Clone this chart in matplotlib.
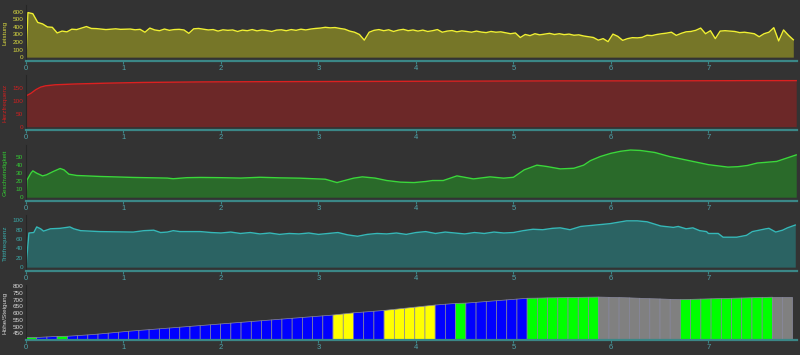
import numpy as np
import matplotlib
matplotlib.use("Agg")
import matplotlib.pyplot as plt

# ---- data ----
# Leistung (W), first point at km 0 then every 0.05 km from 0.02
pwr = [0,
       590, 575, 460, 440, 400, 395, 320, 345, 335, 370,
       365, 385, 405, 380, 378, 372, 365, 370, 375, 368,
       370, 372, 362, 368, 330, 385, 360, 350, 372, 355,
       365, 368, 360, 315, 375, 380, 370, 360, 365, 345,
       362, 355, 360, 340, 358, 350, 365, 348, 360, 352,
       340, 358, 362, 350, 365, 355, 370, 360, 372, 380,
       385, 395, 388, 392, 380, 370, 345, 330, 300, 225,
       330, 355, 365, 350, 362, 340, 358, 368, 350, 360,
       345, 358, 340, 350, 365, 330, 345, 352, 335, 348,
       340, 330, 345, 332, 325, 340, 330, 335, 322, 310,
       320, 260, 300, 285, 310, 295, 305, 315, 300, 310,
       298, 305, 290, 295, 280, 270, 260, 225, 245, 205,
       305, 275, 222, 245, 258, 255, 262, 290, 285, 300,
       310, 318, 330, 288, 315, 335, 340, 355, 385, 310,
       350, 245, 345, 350, 345, 340, 325, 330, 320, 310,
       270, 310, 330, 390, 215, 360, 290, 230]
pwr_km = np.r_[0.0, 0.02 + 0.05 * np.arange(len(pwr) - 1)]

# Herzfrequenz
hr_km = [0, 0.05, 0.1, 0.15, 0.2, 0.3, 0.5, 0.8, 1.2, 1.8, 2.5, 3.5, 4.5, 5.5, 6.5, 7.5, 7.9]
hr = [118, 128, 142, 152, 157, 161, 164, 167, 170, 172, 173, 174, 175, 176, 176, 177, 177]

# Geschwindigkeit
spd_km = [0, 0.01, 0.05, 0.07, 0.11, 0.17, 0.21, 0.28, 0.35, 0.39,
          0.44, 0.52, 0.76, 1.1, 1.45, 1.51, 1.65, 1.79, 2.0, 2.2,
          2.4, 2.6, 2.81, 3.07, 3.19, 3.36, 3.45, 3.58, 3.70, 3.84,
          3.98, 4.10, 4.17, 4.28, 4.42, 4.59, 4.76, 4.90, 5.00, 5.11,
          5.24, 5.34, 5.48, 5.62, 5.72, 5.79, 5.89, 6.0, 6.1, 6.2,
          6.3, 6.45, 6.6, 6.8, 7.0, 7.1, 7.2, 7.3, 7.4, 7.5,
          7.6, 7.7, 7.8, 7.9]
spd = [0, 21, 29.5, 32.4, 29.5, 26.2, 27.5, 31.6, 35.3, 33.6,
       28.3, 26.7, 25.5, 24.3, 23.5, 22.7, 24, 24.3, 24, 23.5,
       24.5, 23.8, 23.4, 22.1, 18, 23.4, 25, 23.5, 20.5, 18.5,
       18, 19.3, 20.5, 20.5, 26.2, 22.5, 25, 23.4, 24.5, 33.6,
       39.4, 37.8, 34.8, 35.6, 39.4, 45, 50, 54, 56.5, 58,
       57.5, 55, 50, 45, 40, 38.5, 37, 37.5, 39, 42,
       43, 44, 48, 52]

# Trittfrequenz
cad_km = [0, 0.03, 0.08, 0.11, 0.15, 0.18, 0.25, 0.35, 0.42, 0.45,
          0.49, 0.56, 0.76, 1.1, 1.21, 1.31, 1.38, 1.45, 1.51, 1.58,
          1.79, 1.9, 2.0, 2.1, 2.2, 2.3, 2.4, 2.5, 2.6, 2.7,
          2.8, 2.9, 3.0, 3.1, 3.2, 3.3, 3.4, 3.5, 3.6, 3.7,
          3.8, 3.9, 4.0, 4.1, 4.2, 4.3, 4.4, 4.5, 4.6, 4.7,
          4.8, 4.9, 5.0, 5.1, 5.2, 5.3, 5.4, 5.48, 5.58, 5.69,
          5.89, 5.99, 6.16, 6.27, 6.37, 6.51, 6.64, 6.69, 6.77, 6.84,
          6.91, 6.98, 7.0, 7.1, 7.15, 7.29, 7.39, 7.45, 7.59, 7.62,
          7.69, 7.76, 7.81, 7.89]
cad = [0, 73, 74, 86, 82, 77, 82, 83, 85, 86,
       82, 78, 76, 75, 78, 79, 74, 75, 78, 76,
       76, 74, 73, 75, 72, 74, 71, 73, 70, 72,
       71, 73, 70, 72, 74, 69, 66, 70, 72, 71,
       73, 70, 74, 76, 72, 75, 73, 71, 74, 72,
       75, 73, 74, 78, 81, 80, 83, 84, 80, 87,
       91, 93, 99, 99, 97, 88, 85, 87, 82, 84,
       78, 76, 72, 72, 64, 64, 68, 76, 82, 83,
       75, 79, 84, 90]

# Hoehe at segment boundaries, segment colours as runs (Steigung class)
seg_len = 0.1048
elev = [422, 423, 427, 431, 432, 437, 442, 448, 455, 462,
        469, 475, 481, 487, 493, 499, 505, 511, 517, 523,
        529, 535, 541, 547, 553, 559, 565, 571, 577, 583,
        589, 597, 605, 611, 617, 623, 631, 639, 647, 655,
        663, 669, 675, 677, 683, 689, 695, 701, 707, 713,
        714, 716, 717, 719, 720, 721, 722, 720, 718, 716,
        713, 710, 708, 705, 703, 705, 707, 709, 711, 713,
        715, 717, 719, 721, 721, 721]
seg_runs = [("g", 1), ("b", 2), ("g", 1), ("b", 26), ("y", 2), ("b", 3),
            ("y", 5), ("b", 2), ("g", 1), ("b", 6), ("g", 7), ("x", 8),
            ("g", 9), ("x", 2)]
seg_colors = {"b": "#0000ff", "y": "#ffff00", "g": "#00ff00", "x": "#808080"}

BG = "#333333"
AXIS = "#3b8787"
TICK_TXT = "#4fa3aa"
XMAX = 7.91

plt.rcParams["font.family"] = ["Liberation Sans", "DejaVu Sans"]


def style(ax, color, label, yticks, ylim):
    ax.set_facecolor(BG)
    ax.set_xlim(0, XMAX)
    ax.set_ylim(*ylim)
    ax.set_xticks(range(8))
    ax.set_yticks(yticks)
    for s in ("top", "right"):
        ax.spines[s].set_visible(False)
    ax.spines["bottom"].set_color(AXIS)
    ax.spines["bottom"].set_linewidth(1.6)
    ax.spines["left"].set_color("#262626")
    ax.tick_params(axis="x", colors=AXIS, labelcolor=TICK_TXT, labelsize=5.5,
                   length=2, pad=1)
    ax.tick_params(axis="y", colors=color, labelsize=4.6, length=0, pad=2)
    ax.set_ylabel(label, color=color, fontsize=4.6)
    ax.yaxis.set_label_coords(-0.024, 0.5)


fig = plt.figure(figsize=(8, 3.55), dpi=100)
fig.patch.set_facecolor(BG)

L, W = 0.0325, 0.964
ax1 = fig.add_axes([L, 0.828, W, 0.158])
ax2 = fig.add_axes([L, 0.634, W, 0.155])
ax3 = fig.add_axes([L, 0.434, W, 0.158])
ax4 = fig.add_axes([L, 0.237, W, 0.158])
ax5 = fig.add_axes([L, 0.042, W, 0.155])

ax1.fill_between(pwr_km, 0, pwr, color="#767628", lw=0)
ax1.plot(pwr_km, pwr, color="#f0f032", lw=1)
style(ax1, "#d8d840", "Leistung", range(0, 601, 100), (-52, 691))

ax2.fill_between(hr_km, 0, hr, color="#6c2828", lw=0)
ax2.plot(hr_km, hr, color="#dc2020", lw=1)
style(ax2, "#d02020", "Herzfrequenz", [0, 50, 100, 150], (-12.7, 199))

ax3.fill_between(spd_km, 0, spd, color="#2a6a2a", lw=0)
ax3.plot(spd_km, spd, color="#3ad83a", lw=1)
style(ax3, "#33cc33", "Geschwindigkeit", range(0, 51, 10), (-4.6, 64.4))

ax4.fill_between(cad_km, 0, cad, color="#2b6363", lw=0)
ax4.plot(cad_km, cad, color="#35b8b8", lw=1)
style(ax4, "#3aaaaa", "Trittfrequenz", range(0, 101, 20), (-8, 112))

base = 400
k = 0
for code, n in seg_runs:
    for _ in range(n):
        xs = [k * seg_len, (k + 1) * seg_len]
        ax5.fill_between(xs, base, elev[k:k + 2], facecolor=seg_colors[code],
                         edgecolor="#8a8aa0", lw=0.5)
        k += 1
style(ax5, "#d8d8d8", "Höhe/Steigung", range(450, 801, 50), (base, 807))

fig.savefig("out.png", dpi=100, facecolor=BG)
